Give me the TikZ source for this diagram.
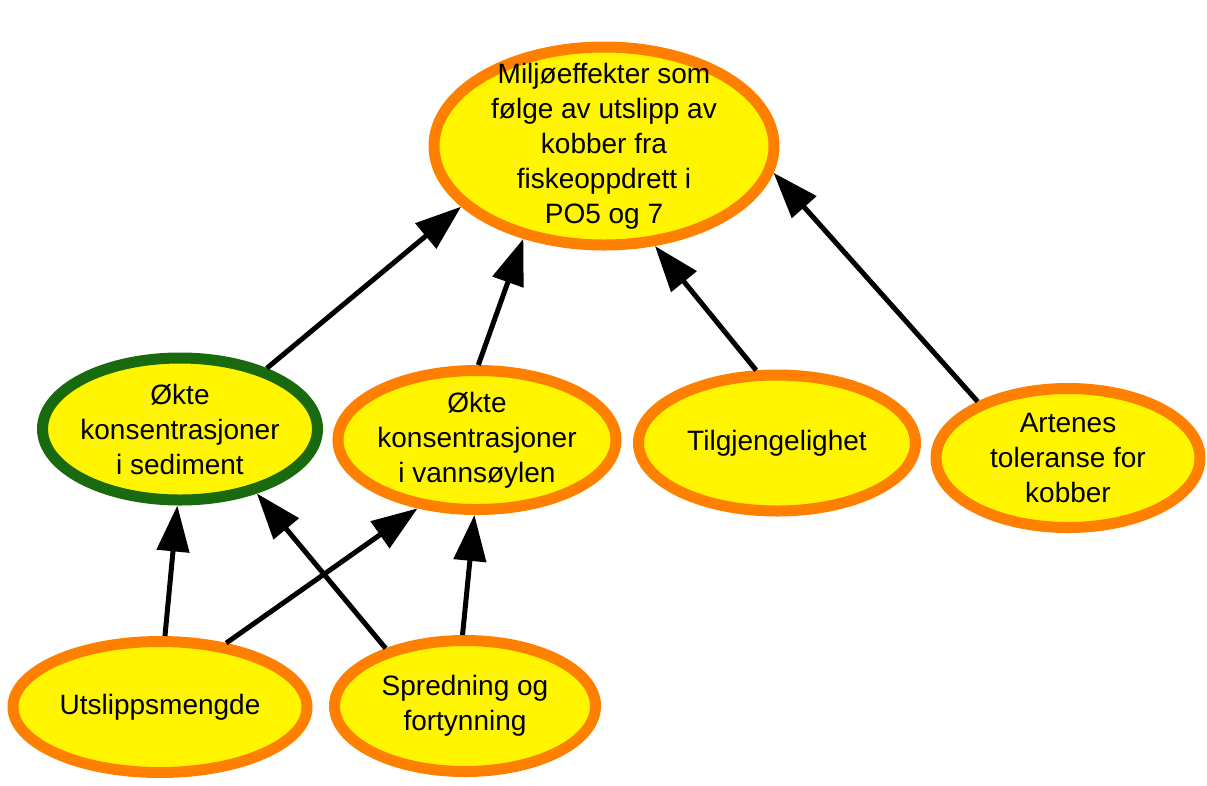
\documentclass[tikz,border=0pt]{standalone}
\usepackage{fontspec}
\setmainfont{Liberation Sans}
\usetikzlibrary{arrows.meta,shapes.geometric}
\definecolor{bubblefill}{RGB}{255,245,0}
\definecolor{bubbleline}{RGB}{255,128,0}
\definecolor{sedline}{RGB}{25,105,15}

\begin{document}
\begin{tikzpicture}[
    x=1pt,
    y=-1pt,
    >={Triangle[length=46pt,width=32pt]},
    font=\fontsize{28}{35}\selectfont,
    bubble/.style={ellipse, draw=bubbleline, fill=bubblefill, line width=11pt, align=center, inner sep=-20pt},
    sedbubble/.style={bubble, draw=sedline},
    link/.style={->, line width=5pt}
]
\useasboundingbox (0,0) rectangle (1207,785);

% --- Hovedeffekt ---
\node[bubble, minimum width=340pt, minimum height=198pt] (effekt) at (604,146) {Miljøeffekter som\\følge av utslipp av\\kobber fra\\fiskeoppdrett i\\PO5 og 7};

% --- Midtre rad ---
\node[sedbubble, minimum width=275pt, minimum height=142pt] (sediment) at (180,429) {Økte\\konsentrasjoner\\i sediment};
\node[bubble, minimum width=278pt, minimum height=139pt] (vann)     at (477,440) {Økte\\konsentrasjoner\\i vannsøylen};
\node[bubble, minimum width=277pt, minimum height=136pt] (tilgj)    at (777,443) {Tilgjengelighet};
\node[bubble, minimum width=264pt, minimum height=139pt] (toleranse) at (1068,458) {Artenes\\toleranse for\\kobber};

% --- Nederste rad ---
\node[bubble, minimum width=294pt, minimum height=131pt] (utslipp)  at (160,707) {Utslippsmengde};
\node[bubble, minimum width=261pt, minimum height=131pt] (spredning) at (465,706) {Spredning og\\fortynning};

% --- Piler mot hovedeffekt ---
\draw[link] (sediment.35)  -- (effekt.203);
\draw[link] (vann.89)      -- (effekt.229);
\draw[link] (tilgj.106)    -- (effekt.297);
\draw[link] (toleranse.148) -- (effekt.351);

% --- Piler mot midtre rad ---
\draw[link] (utslipp.86)    -- (sediment.268);
\draw[link] (utslipp.44)    -- (vann.229);
\draw[link] (spredning.144) -- (sediment.320);
\draw[link] (spredning.92)  -- (vann.268);

\end{tikzpicture}
\end{document}
